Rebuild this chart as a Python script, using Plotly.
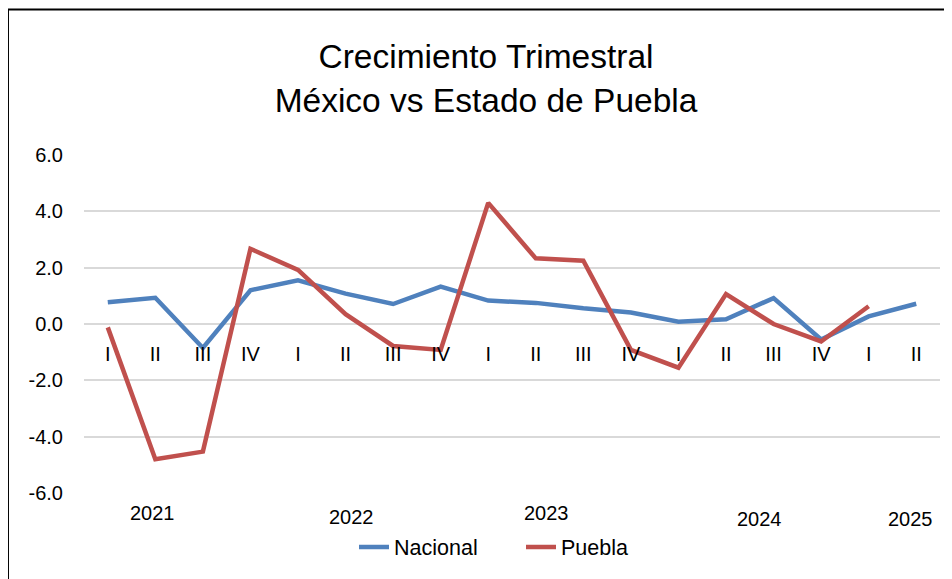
import plotly.graph_objects as go

# ---- data ----
quarters = ["I", "II", "III", "IV",
            "I", "II", "III", "IV",
            "I", "II", "III", "IV",
            "I", "II", "III", "IV",
            "I", "II"]
nacional = [0.77, 0.93, -0.85, 1.20, 1.55, 1.08, 0.71, 1.33, 0.83, 0.75,
            0.56, 0.41, 0.08, 0.17, 0.92, -0.55, 0.27, 0.72]
puebla = [-0.12, -4.80, -4.53, 2.67, 1.92, 0.35, -0.78, -0.92, 4.30, 2.33,
          2.25, -0.92, -1.55, 1.06, 0.00, -0.62, 0.63]
years = ["2021", "2022", "2023", "2024", "2025"]
year_x = [0.95, 5.13, 9.22, 13.70, 16.89]       # category-axis positions of year labels
year_y = [-0.059, -0.071, -0.059, -0.078, -0.078]  # paper offsets below plot
y_ticks = [-6, -4, -2, 0, 2, 4, 6]

FONT = "Liberation Sans, Arial, sans-serif"
BLUE = "#4F81BD"
RED = "#C0504D"

idx = list(range(len(quarters)))

fig = go.Figure()
fig.add_trace(go.Scatter(x=idx, y=nacional, mode="lines", name="Nacional",
                         line=dict(color=BLUE, width=4.5)))
fig.add_trace(go.Scatter(x=idx[:len(puebla)], y=puebla, mode="lines", name="Puebla",
                         line=dict(color=RED, width=4.5)))

annotations = []
for t, xv, yv in zip(years, year_x, year_y):
    annotations.append(dict(text=t, x=xv, y=yv, xref="x", yref="paper",
                            xanchor="center", yanchor="middle", showarrow=False,
                            font=dict(family=FONT, size=20, color="#000000")))

fig.update_layout(
    width=952, height=579,
    margin=dict(l=76, r=20, t=147, b=94),
    paper_bgcolor="white", plot_bgcolor="white",
    title=dict(text="Crecimiento Trimestral<br>México vs Estado de Puebla",
               x=478 / 952, xanchor="center", xref="container",
               y=1 - 60 / 579, yanchor="middle", yref="container",
               font=dict(family=FONT, size=33.5, color="#000000")),
    xaxis=dict(range=[-0.5, len(quarters) - 0.5], tickvals=idx, ticktext=quarters,
               showgrid=False, zeroline=False, showline=False, ticks="",
               anchor="free", position=0.5, ticklabelstandoff=16,
               tickfont=dict(family=FONT, size=20, color="#000000")),
    yaxis=dict(range=[-6, 6], tickvals=y_ticks,
               ticktext=[f"{v:.1f}" for v in y_ticks],
               showgrid=True, gridcolor="#D9D9D9", gridwidth=1.5,
               zeroline=True, zerolinecolor="#D9D9D9", zerolinewidth=1.5,
               showline=False, ticks="", ticklabelstandoff=20,
               tickfont=dict(family=FONT, size=20, color="#000000")),
    legend=dict(orientation="h", x=(513 - 76) / 856, xanchor="center",
                y=(485 - 539) / 338, yanchor="middle",
                entrywidth=122, entrywidthmode="pixels",
                font=dict(family=FONT, size=21.5, color="#000000"),
                bgcolor="rgba(0,0,0,0)"),
    annotations=annotations,
    shapes=[
        dict(type="line", xref="paper", yref="paper",
             x0=-0.0888, x1=1.03, y0=1.4305, y1=1.4305,
             line=dict(color="#000000", width=2)),
        dict(type="line", xref="paper", yref="paper",
             x0=-0.0888, x1=-0.0888, y0=1.4305, y1=-0.3,
             line=dict(color="#000000", width=2)),
    ],
)

fig.write_html("out.html")
